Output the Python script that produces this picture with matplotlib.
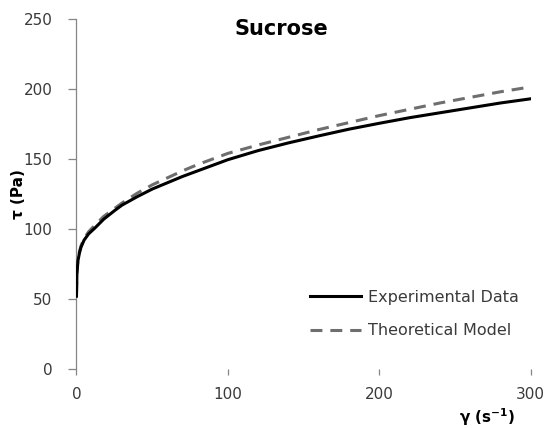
import matplotlib as mpl
mpl.use('Agg')
from matplotlib import pyplot as plt

# Shear rate (1/s) and shear stress (Pa)
shear_rate = [0, 0.3, 1, 2, 3, 5, 8, 12, 18, 25, 30, 40, 50, 60, 70, 80, 90,
              100, 120, 140, 160, 180, 200, 220, 240, 260, 280, 300]
stress_exp = [52, 68, 77.5, 83, 87, 92, 96.5, 100.5, 107, 113, 117, 123,
              128.5, 133, 137.5, 141.5, 145.5, 149.5, 156, 161.5, 166.5,
              171.3, 175.5, 179.5, 183, 186.5, 190, 193]
stress_model = [54, 70, 78.5, 84, 88, 93, 98, 102.5, 109, 114.5, 118.5,
                125.5, 131.5, 136.5, 141.5, 146, 150, 154, 160, 165.5, 171,
                176, 181, 185.5, 190, 194, 198, 201.5]

x_ticks = [0, 100, 200, 300]
y_ticks = [0, 50, 100, 150, 200, 250]

text_color = '#3a3a3a'
axis_color = '#868686'

fig = plt.figure(figsize=(5.49, 4.28), dpi=100)
ax = fig.add_axes([0.1393, 0.1379, 0.8273, 0.8177])

ax.plot(shear_rate, stress_exp, color='black', lw=2.2,
        label='Experimental Data', zorder=3)
ax.plot(shear_rate, stress_model, color='#6e6e6e', lw=2.2, ls=(0, (3.9, 2.6)),
        label='Theoretical Model', zorder=2)

ax.set_xlim(0, 300)
ax.set_ylim(0, 250)
ax.set_xticks(x_ticks)
ax.set_yticks(y_ticks)

for side in ['top', 'right', 'bottom']:
    ax.spines[side].set_visible(False)
ax.spines['left'].set_color(axis_color)
ax.spines['left'].set_linewidth(0.9)

ax.tick_params(axis='both', direction='out', width=0.9, color=axis_color,
               labelsize=11, labelcolor=text_color)
ax.tick_params(axis='x', length=4.3, pad=9)
ax.tick_params(axis='y', length=5.8, pad=11.5)

fig.text(281.5 / 549, 1 - 29 / 428, 'Sucrose', fontsize=15, fontweight='bold',
         color='black', ha='center', va='center')

fig.text(487 / 549, 1 - 417 / 428, r'γ (s$^{\mathbf{-1}}$)', fontsize=11,
         fontweight='bold', color='black', ha='center', va='center')
fig.text(18.5 / 549, 1 - 194.5 / 428, 'τ (Pa)', fontsize=11,
         fontweight='bold', color='black', ha='center', va='center',
         rotation=90)

fig.legend(*ax.get_legend_handles_labels(), loc='center left',
           bbox_to_anchor=(310 / 549, 1 - 314 / 428), frameon=False,
           fontsize=11.5, labelcolor=text_color, handlelength=3.2,
           handletextpad=0.4, labelspacing=1.15, borderpad=0,
           borderaxespad=0)

fig.savefig('out.png', dpi=100)
